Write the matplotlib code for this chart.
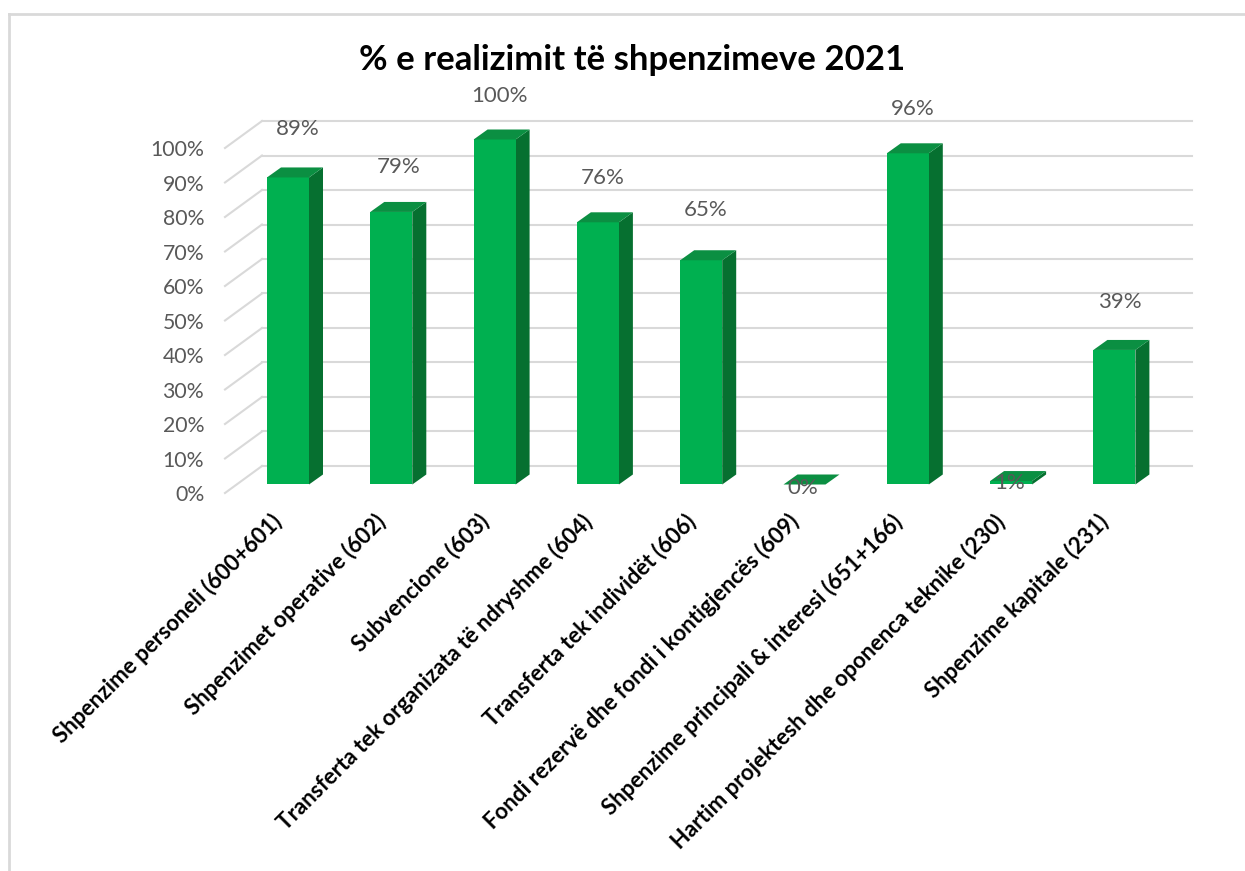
import matplotlib
matplotlib.use('Agg')
import matplotlib.pyplot as plt
from matplotlib.lines import Line2D
from matplotlib.patches import Polygon
from matplotlib.transforms import ScaledTranslation

plt.rcParams['font.family'] = ['Lato', 'DejaVu Sans']

TITLE = '% e realizimit të shpenzimeve 2021'
categories = [
    'Shpenzime personeli (600+601)',
    'Shpenzimet operative (602)',
    'Subvencione (603)',
    'Transferta tek organizata të ndryshme (604)',
    'Transferta tek individët (606)',
    'Fondi rezervë dhe fondi i kontigjencës (609)',
    'Shpenzime principali & interesi (651+166)',
    'Hartim projektesh dhe oponenca teknike (230)',
    'Shpenzime kapitale (231)',
]
values = [89, 79, 100, 76, 65, 0, 96, 1, 39]
y_ticks = [0, 10, 20, 30, 40, 50, 60, 70, 80, 90, 100]

# Data label offsets from the bar top, in pixels (Excel 3D placement)
label_dx = [10, 7, 5, 5, 4, -2, 5, -2, 5]
label_dy = [48, 45, 44, 44, 50, -3, 44, -2, 48]

W, H = 1245, 871
PX_X0, PX_X1 = 225, 1192     # axes extent, pixels
PX_TOP, PX_BOT = 121, 493
PX_ZERO = 484.5              # front of bars at 0%
PX_PER_PCT = 3.45
PX_PER_CAT = 103.3
PX_FIRST = 288               # centre of first bar

FRONT = '#00B050'
TOP = '#0B8F42'
SIDE = '#067030'
GRID = '#D9D9D9'
TICK = '#595959'
BAR_W = 42 / PX_PER_CAT
DEPTH_X = 14 / PX_PER_CAT
DEPTH_Y = 10 / PX_PER_PCT


def data_x(px):
    return (px - PX_FIRST) / PX_PER_CAT


def data_y(py):
    return (PX_ZERO - py) / PX_PER_PCT


fig = plt.figure(figsize=(W / 100, H / 100), dpi=100, facecolor='white')
ax = fig.add_axes([PX_X0 / W, 1 - PX_BOT / H, (PX_X1 - PX_X0) / W, (PX_BOT - PX_TOP) / H])
ax.set_xlim(data_x(PX_X0), data_x(PX_X1))
ax.set_ylim(data_y(PX_BOT), data_y(PX_TOP))
for s in ax.spines.values():
    s.set_visible(False)

# back wall grid plus the slanted side wall lines
wall_x = data_x(262)
wall_dy = data_y(466)
front_dy = data_y(493)
for v in y_ticks:
    ax.plot([data_x(PX_X0), wall_x], [v + front_dy, v + wall_dy], color=GRID, lw=1.5, zorder=1, clip_on=False)
    ax.plot([wall_x, data_x(PX_X1)], [v + wall_dy, v + wall_dy], color=GRID, lw=1.5, zorder=1, clip_on=False)

x = list(range(len(categories)))
ax.bar(x, values, width=BAR_W, color=FRONT, zorder=3)
for xi, v in zip(x, values):
    left, right = xi - BAR_W / 2, xi + BAR_W / 2
    ax.add_patch(Polygon([(left, v), (right, v), (right + DEPTH_X, v + DEPTH_Y), (left + DEPTH_X, v + DEPTH_Y)],
                         closed=True, fc=TOP, ec='none', zorder=3, clip_on=False))
    ax.add_patch(Polygon([(right, 0), (right + DEPTH_X, DEPTH_Y), (right + DEPTH_X, v + DEPTH_Y), (right, v)],
                         closed=True, fc=SIDE, ec='none', zorder=2.9, clip_on=False))

for xi, v, dx, dy in zip(x, values, label_dx, label_dy):
    ax.annotate(f'{v}%', (xi, v), xytext=(dx * 0.72, dy * 0.72), textcoords='offset points',
                ha='center', va='center', fontsize=16, color=TICK, zorder=5)

ax.set_yticks([v + front_dy for v in y_ticks])
ax.set_yticklabels([f'{v}%' for v in y_ticks], fontsize=15.3, color=TICK)
ax.tick_params(axis='y', length=0, pad=15)
ax.set_xticks(x)
ax.set_xticklabels(categories, rotation=45, ha='right', rotation_mode='anchor', fontsize=16,
                   color='black', fontweight='bold')
ax.tick_params(axis='x', length=0, pad=12.5)
# labels sit a little left of the bar centres
shift = ScaledTranslation(-17 / 100, 0, fig.dpi_scale_trans)
for lab in ax.get_xticklabels():
    lab.set_transform(lab.get_transform() + shift)

fig.text(632 / W, 1 - 60 / H, TITLE, ha='center', va='center', fontsize=25, fontweight='bold', color='black')

# screenshot frame
fig.add_artist(Line2D([9 / W, 9 / W], [0, 1 - 14 / H], color=GRID, lw=2))
fig.add_artist(Line2D([9 / W, 1], [1 - 14 / H, 1 - 14 / H], color=GRID, lw=2))

fig.savefig('out.png', dpi=100)
